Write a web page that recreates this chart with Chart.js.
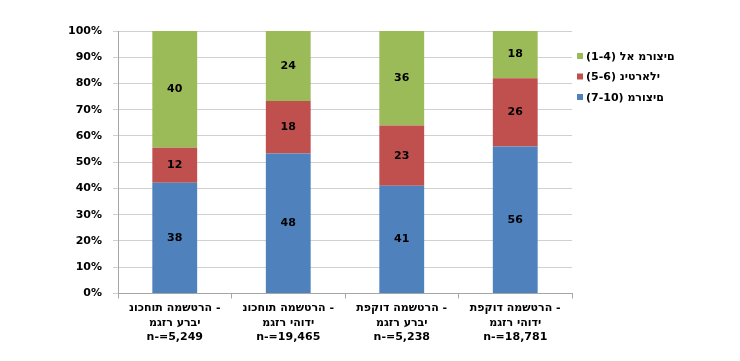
<!DOCTYPE html>
<html>
<head>
<meta charset="utf-8">
<script src="https://cdn.jsdelivr.net/npm/chart.js@4"></script>
<style>
  html, body { margin: 0; padding: 0; background: #fff; }
  #wrap { width: 740px; height: 361px; }
</style>
</head>
<body>
<div id="wrap"><canvas id="chart"></canvas></div>
<script>
// the source picture shows the Hebrew letters left-to-right, so force that order
const ltr = s => '\u202D' + s + '\u202C';

const categories = [
  [ltr('נוכחות המשטרה -'), ltr('מגזר ערבי'), 'n-=5,249'],
  [ltr('נוכחות המשטרה -'), ltr('מגזר יהודי'), 'n-=19,465'],
  [ltr('תפקוד המשטרה -'), ltr('מגזר ערבי'), 'n-=5,238'],
  [ltr('תפקוד המשטרה -'), ltr('מגזר יהודי'), 'n-=18,781']
];
const seriesNames = ['(7-10) מרוצים', '(5-6) ניטראלי', '(1-4) לא מרוצים'];
const satisfied = [38, 48, 41, 56];
const neutral = [12, 18, 23, 26];
const notSatisfied = [40, 24, 36, 18];
const yTicks = [0, 10, 20, 30, 40, 50, 60, 70, 80, 90, 100];

const BLUE = '#4f81bd', RED = '#c0504d', GREEN = '#9bbb59';
const FONT = "'DejaVu Sans', sans-serif";

// 100% stacked: each column is scaled to its own total
const totals = satisfied.map((v, i) => v + neutral[i] + notSatisfied[i]);
const pct = arr => arr.map((v, i) => v / totals[i] * 100);

const valueLabels = {
  id: 'valueLabels',
  afterDatasetsDraw(chart) {
    const ctx = chart.ctx;
    ctx.save();
    ctx.font = 'bold 11px ' + FONT;
    ctx.fillStyle = '#000';
    ctx.textAlign = 'center';
    ctx.textBaseline = 'middle';
    chart.data.datasets.forEach((ds, di) => {
      chart.getDatasetMeta(di).data.forEach((bar, i) => {
        ctx.fillText(String(ds.raw[i]), bar.x, (bar.y + bar.base) / 2);
      });
    });
    ctx.restore();
  }
};

const sideLegend = {
  id: 'sideLegend',
  afterDraw(chart) {
    const ctx = chart.ctx;
    const a = chart.chartArea;
    ctx.save();
    ctx.font = 'bold 11px ' + FONT;
    ctx.textBaseline = 'middle';
    ctx.textAlign = 'left';
    const items = chart.data.datasets.slice().reverse();
    items.forEach((ds, k) => {
      const y = a.top + 25 + k * 20.5;
      const x = a.right + 5;
      ctx.fillStyle = ds.backgroundColor;
      ctx.fillRect(x, y - 3, 6, 6);
      ctx.fillStyle = '#000';
      ctx.fillText(ltr(ds.label), x + 9, y + 1);
    });
    ctx.restore();
  }
};

new Chart(document.getElementById('chart'), {
  type: 'bar',
  data: {
    labels: categories,
    datasets: [
      { label: seriesNames[0], data: pct(satisfied), raw: satisfied, backgroundColor: BLUE },
      { label: seriesNames[1], data: pct(neutral), raw: neutral, backgroundColor: RED },
      { label: seriesNames[2], data: pct(notSatisfied), raw: notSatisfied, backgroundColor: GREEN }
    ]
  },
  options: {
    responsive: true,
    maintainAspectRatio: false,
    animation: false,
    layout: { padding: { top: 31, right: 168, bottom: 14, left: 0 } },
    datasets: { bar: { categoryPercentage: 1, barPercentage: 0.395, borderWidth: 0 } },
    plugins: { legend: { display: false }, tooltip: { enabled: false } },
    scales: {
      x: {
        stacked: true,
        grid: { drawOnChartArea: false, drawTicks: true, tickLength: 5, color: '#a6a6a6' },
        border: { color: '#a6a6a6' },
        ticks: { color: '#000', padding: 2, font: { family: FONT, size: 11, weight: 'bold', lineHeight: 1.35 }, maxRotation: 0 }
      },
      y: {
        stacked: true,
        min: 0, max: 100,
        afterBuildTicks: s => { s.ticks = yTicks.map(v => ({ value: v })); },
        afterFit: s => { s.width = 118; },
        grid: { color: '#d0d0d0', tickLength: 5 },
        border: { color: '#a6a6a6' },
        ticks: { color: '#000', padding: 11, font: { family: FONT, size: 11, weight: 'bold' }, callback: v => v + '%' }
      }
    }
  },
  plugins: [valueLabels, sideLegend]
});
</script>
</body>
</html>
